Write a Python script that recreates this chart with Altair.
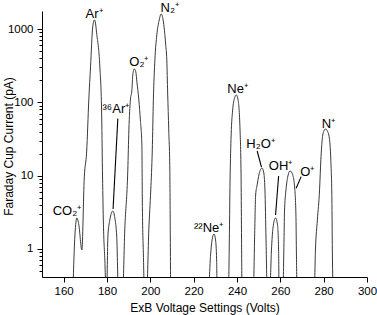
import altair as alt
import pandas as pd

# ---- trace (ExB voltage, Faraday cup current in pA) ----
trace_x = [164.3, 165.2, 166.1, 167.0, 168.4, 169.5, 170.6, 171.6, 172.4, 173.4, 174.2, 174.6, 175.2, 176.7, 177.5, 177.9, 178.3, 179.0, 179.5,
           179.9, 180.4, 181.3, 182.7, 183.6, 184.5, 185.2,
           187.3, 188.2, 189.6, 190.1, 190.8, 191.5, 191.9, 192.6, 193.3, 193.8, 194.7, 195.4, 196.1, 196.3, 196.8, 197.2,
           198.4, 199.3, 200.2, 200.9, 201.4, 202.1, 203.0, 204.1, 205.0, 205.9, 207.1, 207.6, 208.0, 208.5, 209.0, 209.2, 209.4,
           226.9, 227.8, 228.5, 229.4, 230.1, 230.6, 230.8,
           236.1, 236.4, 236.8, 237.3, 238.0, 238.9, 239.7, 240.5, 241.4, 241.9, 242.1, 242.3,
           247.6, 248.1, 248.6, 249.3, 250.2, 251.5, 252.3, 252.9, 253.4, 253.9,
           255.2, 255.9, 256.6, 257.8, 258.7, 259.2, 259.4,
           261.2, 261.7, 261.9, 262.6, 263.5, 264.5, 265.6, 266.5, 267.2, 267.4, 267.7,
           275.7, 276.2, 277.1, 278.1, 278.7, 279.4, 280.1, 280.8, 281.7, 282.6, 283.3, 283.8, 284.0, 284.3]
trace_y = [0.3, 1.55, 2.65, 2.13, 0.97, 9.3, 21, 108, 305, 1060, 1330, 1250, 885, 304, 78.6, 11.9, 2.49, 0.71, 0.3,
           0.3, 1.46, 2.49, 3.3, 2.65, 1.46, 0.3,
           0.3, 1.82, 11.9, 42, 108, 148, 236, 286, 260, 190, 108, 57.5, 26.2, 4.66, 0.83, 0.3,
           0.3, 1.82, 6.38, 22.4, 108, 379, 831, 1330, 1607, 1330, 607, 379, 134, 42, 11.9, 1.82, 0.3,
           0.3, 0.83, 1.33, 1.6, 1.33, 0.71, 0.3,
           0.3, 0.97, 8.7, 35.9, 78.7, 115, 126, 108, 42, 8.7, 1.33, 0.3,
           0.3, 1.33, 5.45, 7.47, 10.5, 12.7, 11.2, 6.38, 1.33, 0.3,
           0.3, 0.97, 1.93, 2.65, 2.13, 0.97, 0.3,
           0.3, 1.33, 3.1, 6.38, 9.9, 11.6, 10.5, 7.47, 2.91, 0.97, 0.3,
           0.3, 0.97, 2.49, 6.38, 16.4, 32.7, 40.7, 43.4, 40.7, 32.7, 16.4, 4.66, 0.97, 0.3]

# ---- peak labels ----
label_text = ["Ar⁺", "N₂⁺", "O₂⁺", "³⁶Ar⁺", "CO₂⁺", "²²Ne⁺", "Ne⁺", "H₂O⁺", "OH⁺", "O⁺", "N⁺"]
label_x = [174.0, 209.0, 194.7, 184.1, 161.5, 226.9, 240.3, 250.9, 260.1, 272.5, 282.2]
label_y = [1417, 1711, 314, 71.7, 2.91, 1.71, 134, 23.9, 11.96, 9.9, 44.8]

# ---- leader lines ----
lead_x1 = [185.0, 249.3, 259.2, 269.6]
lead_y1 = [60, 21.7, 9.9, 9.7]
lead_x2 = [182.8, 251.3, 257.8, 267.3]
lead_y2 = [3.5, 13.1, 2.91, 6.73]

# ---- axis ticks ----
x_major = [160, 180, 200, 220, 240, 260, 280, 300]
x_minor = [170, 190, 210, 230, 250, 270, 290]
y_major = [1, 10, 100, 1000]
y_minor = [0.5, 0.6, 0.7, 0.8, 0.9, 2, 3, 4, 5, 6, 7, 8, 9, 20, 30, 40, 50, 60, 70, 80, 90,
           200, 300, 400, 500, 600, 700, 800, 900]

trace = pd.DataFrame({"x": trace_x, "y": trace_y, "i": range(len(trace_x))})
labels = pd.DataFrame({"t": label_text, "x": label_x, "y": label_y})
leads = pd.DataFrame({"x": lead_x1, "y": lead_y1, "x2": lead_x2, "y2": lead_y2})

FONT = "Liberation Sans"
xs = alt.Scale(domain=[150, 300], nice=False, zero=False)
ys = alt.Scale(type="log", domain=[0.415, 1760], nice=False)

xmaj = "indexof([160,180,200,220,240,260,280,300], datum.value) >= 0"
ymaj = "indexof([1,10,100,1000], datum.value) >= 0"

x_axis = alt.Axis(
    values=x_major + x_minor, title="ExB Voltage Settings (Volts)",
    labelExpr=f"{xmaj} ? format(datum.value, 'd') : ''",
    tickSize={"condition": {"test": xmaj, "value": 5}, "value": 3},
    grid=False, labelFlush=False, labelPadding=3, labelFontSize=11.5,
    titleY=34, titleBaseline="alphabetic",
)
y_axis = alt.Axis(
    values=y_major + y_minor, title="Faraday Cup Current (pA)",
    labelExpr=f"{ymaj} ? format(datum.value, 'd') : ''",
    tickSize={"condition": {"test": ymaj, "value": 5}, "value": 3},
    grid=False, labelFlush=False, labelPadding=4, labelFontSize=11.5,
    labelOverlap=False,
    titleX=-34, titleY=135, titleBaseline="middle",
)

line = alt.Chart(trace).mark_line(color="#3a3a3a", strokeWidth=1, clip=True, interpolate="monotone").encode(
    x=alt.X("x:Q", scale=xs, axis=x_axis),
    y=alt.Y("y:Q", scale=ys, axis=y_axis),
    order="i:Q",
)
rules = alt.Chart(leads).mark_rule(color="black", strokeWidth=1.1).encode(
    x="x:Q", y="y:Q", x2="x2:Q", y2="y2:Q"
)
texts = alt.Chart(labels).mark_text(font=FONT, fontSize=13, color="black", align="center", baseline="alphabetic").encode(
    x="x:Q", y="y:Q", text="t:N"
)

chart = alt.layer(line, rules, texts).properties(
    width=325, height=266,
    autosize=alt.AutoSizeParams(type="none"),
    padding={"left": 42, "top": 11, "right": 10, "bottom": 38},
).configure_view(stroke=None).configure_axis(
    labelFont=FONT, titleFont=FONT, titleFontSize=12, titleFontWeight="normal",
    labelColor="black", titleColor="black", domainColor="black", tickColor="black",
    domainWidth=1, tickWidth=1,
)

chart.save("out.html", embed_options={"renderer": "svg", "actions": False})
